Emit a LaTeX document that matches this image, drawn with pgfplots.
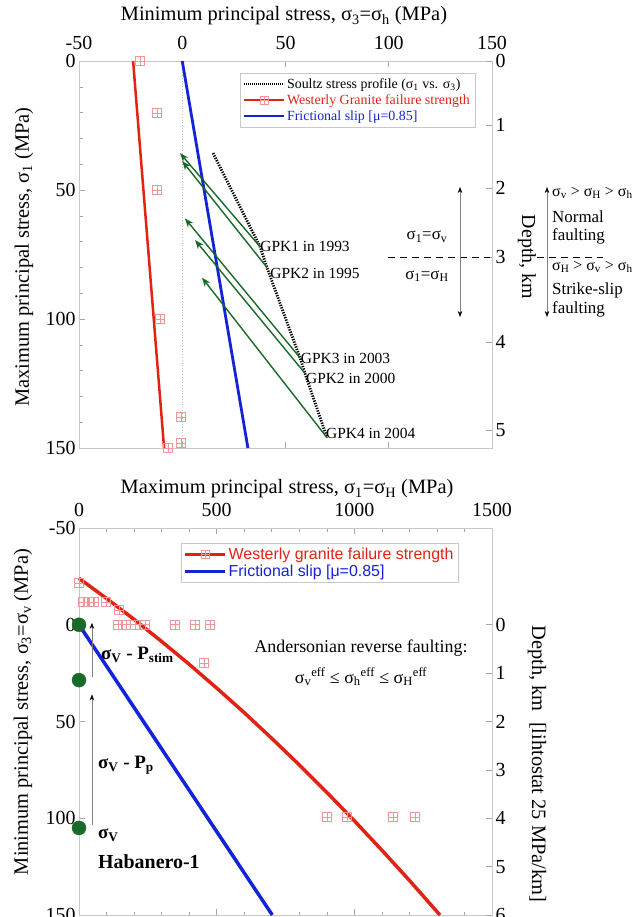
\documentclass[border=0pt]{standalone}
\usepackage{pgfplots}
\pgfplotsset{compat=1.18}
\usepackage{fontspec}
\setmainfont{Liberation Serif}
\newfontfamily\arialf{Liberation Sans}
\usetikzlibrary{arrows.meta}
\definecolor{myred}{RGB}{225,35,20}
\definecolor{myblue}{RGB}{20,35,215}
\definecolor{mygreen}{RGB}{25,105,40}
\definecolor{mypink}{RGB}{240,150,150}
\definecolor{axgray}{RGB}{200,200,200}
\newcommand{\fs}[1]{\fontsize{#1}{#1}\selectfont}
\newcommand{\sub}[1]{\textsubscript{#1}}
\pgfdeclareplotmark{sqplus}{%
 \pgfpathrectangle{\pgfpoint{-\pgfplotmarksize}{-\pgfplotmarksize}}{\pgfpoint{2\pgfplotmarksize}{2\pgfplotmarksize}}%
 \pgfpathmoveto{\pgfpoint{-\pgfplotmarksize}{0pt}}\pgfpathlineto{\pgfpoint{\pgfplotmarksize}{0pt}}%
 \pgfpathmoveto{\pgfpoint{0pt}{-\pgfplotmarksize}}\pgfpathlineto{\pgfpoint{0pt}{\pgfplotmarksize}}%
 \pgfusepathqstroke}
\pgfplotsset{
 base/.style={scale only axis, width=413bp, height=387bp, clip=false,
  axis line style={axgray, line width=0.8bp}, tick style={gray!70, line width=0.6bp},
  major tick length=6bp, minor tick length=3.5bp, tick label style={font=\fs{20}},
  xticklabel style={yshift=7.5bp},
  /pgf/number format/assume math mode=true},
}
\begin{document}
\begin{tikzpicture}
% ---------------- TOP PANEL ----------------
\begin{axis}[base, at={(79bp,-448bp)}, anchor=south west,
 xmin=-50, xmax=150, ymin=0, ymax=150, y dir=reverse,
 xtick={-50,0,50,100,150}, xticklabels={-50,0,50,100,150},
 xticklabel pos=top, xtick pos=both,
 ytick={0,50,100,150}, yticklabels={0,50,100,150}, ytick pos=left,
 minor y tick num=4,
 legend image code/.code={\draw[mark repeat=2,mark phase=2,#1] plot coordinates {(0bp,0bp)(20bp,0bp)(40bp,0bp)};},
 legend style={at={(0.959,0.969)}, anchor=north east, draw=axgray, font=\fs{14},
   cells={anchor=west}, row sep=1bp, inner sep=3bp},
]
\addlegendimage{black, line width=1.8bp, dash pattern=on 1.2bp off 0.8bp}
\addlegendentry{Soultz stress profile (σ\sub{1} vs. σ\sub{3})}
\addlegendimage{myred, line width=2.2bp, mark=sqplus, mark options={mypink, solid, line width=0.6bp}, mark size=4bp}
\addlegendentry{\textcolor{myred}{Westerly Granite failure strength}}
\addlegendimage{myblue, line width=2.2bp}
\addlegendentry{\textcolor{myblue}{Frictional slip [μ=0.85]}}
\addplot[gray!50, dotted, line width=0.8bp, forget plot] coordinates {(0,0)(0,150)};
\addplot[myred, line width=2.5bp, forget plot] coordinates {(-23.8,0)(-8.8,150)};
\addplot[only marks, mark=sqplus, mark size=4.5bp, mypink, line width=0.6bp, forget plot]
 coordinates {(-20.5,0)(-12.2,20.2)(-12.2,50)(-10.8,100)(-0.6,138)(-0.6,148)(-6.9,150)};
\addplot[myblue, line width=2.8bp, forget plot] coordinates {(0,0)(31.8,150)};
\addplot[black, line width=2.8bp, dash pattern=on 1.3bp off 1.3bp, forget plot]
 coordinates {(14.9,35.7)(37.7,72)(41,80)(57,115)(59.4,121)(70.1,146)};
\addplot[mygreen, line width=1.4bp, -{Stealth[length=9bp,width=7bp]}, forget plot] coordinates {(37.7,72)(-1.1,35.7)};
\addplot[mygreen, line width=1.4bp, -{Stealth[length=9bp,width=7bp]}, forget plot] coordinates {(41,80)(0,38.8)};
\addplot[mygreen, line width=1.4bp, -{Stealth[length=9bp,width=7bp]}, forget plot] coordinates {(57,115)(1.3,61)};
\addplot[mygreen, line width=1.4bp, -{Stealth[length=9bp,width=7bp]}, forget plot] coordinates {(59.4,121)(6.2,69.4)};
\addplot[mygreen, line width=1.4bp, -{Stealth[length=9bp,width=7bp]}, forget plot] coordinates {(70.1,146)(9.6,84)};
\node[anchor=west, font=\fs{15.5}, inner sep=1bp] at (axis cs:37.3,71.7) {GPK1 in 1993};
\node[anchor=west, font=\fs{15.5}, inner sep=1bp] at (axis cs:42.1,82.2) {GPK2 in 1995};
\node[anchor=west, font=\fs{15.5}, inner sep=1bp] at (axis cs:56.9,115.1) {GPK3 in 2003};
\node[anchor=west, font=\fs{15.5}, inner sep=1bp] at (axis cs:59.4,122.9) {GPK2 in 2000};
\node[anchor=west, font=\fs{15.5}, inner sep=1bp] at (axis cs:69.1,144.2) {GPK4 in 2004};
\end{axis}
\begin{axis}[base, at={(79bp,-448bp)}, anchor=south west,
 xmin=-50, xmax=150, ymin=0, ymax=150, y dir=reverse,
 axis x line=none, axis y line*=right, ytick pos=right,
 ytick={0,24.8,49.2,76,109,143}, yticklabels={0,1,2,3,4,5}]
\end{axis}
% top annotations
\node[font=\fs{20.5}] at (284bp,-16bp) {Minimum principal stress, σ\sub{3}=σ\sub{h} (MPa)};
\node[rotate=90, font=\fs{20.5}] at (24bp,-257bp) {Maximum principal stress, σ\sub{1} (MPa)};
\node[font=\fs{17}] at (427bp,-237bp) {σ\sub{1}=σ\sub{v}};
\node[font=\fs{17}] at (427bp,-276bp) {σ\sub{1}=σ\sub{H}};
\draw[line width=0.9bp, dash pattern=on 7bp off 5bp] (388bp,-257bp) -- (490bp,-257bp);
\draw[line width=0.9bp, dash pattern=on 7bp off 5bp] (537bp,-257bp) -- (603bp,-257bp);
\draw[gray, line width=0.5bp, {Stealth[length=6bp,width=4.5bp,color=black]}-{Stealth[length=6bp,width=4.5bp,color=black]}] (460bp,-187bp) -- (460bp,-317bp);
\draw[gray, line width=0.5bp, {Stealth[length=6bp,width=4.5bp,color=black]}-{Stealth[length=6bp,width=4.5bp,color=black]}] (547bp,-187bp) -- (547bp,-317bp);
\node[rotate=-90, font=\fs{20}] at (527bp,-257bp) {Depth, km};
\node[anchor=west, font=\fs{16}, inner sep=1bp] at (551bp,-193bp) {σ\sub{v} > σ\sub{H} > σ\sub{h}};
\node[anchor=west, font=\fs{17}, inner sep=1bp] at (551bp,-217bp) {Normal};
\node[anchor=west, font=\fs{17}, inner sep=1bp] at (551bp,-236bp) {faulting};
\node[anchor=west, font=\fs{16}, inner sep=1bp] at (551bp,-267bp) {σ\sub{H} > σ\sub{v} > σ\sub{h}};
\node[anchor=west, font=\fs{17}, inner sep=1bp] at (551bp,-290bp) {Strike-slip};
\node[anchor=west, font=\fs{17}, inner sep=1bp] at (551bp,-309bp) {faulting};
% ---------------- BOTTOM PANEL ----------------
\begin{axis}[base, at={(79bp,-915bp)}, anchor=south west,
 xmin=0, xmax=1500, ymin=-50, ymax=150, y dir=reverse,
 xtick={0,500,1000,1500}, xticklabels={0,500,1000,1500},
 xticklabel pos=top, xtick pos=both, minor x tick num=4,
 ytick={-50,0,50,100,150}, yticklabels={-50,0,50,100,150}, ytick pos=left,
 legend image code/.code={\draw[mark repeat=2,mark phase=2,#1] plot coordinates {(0bp,0bp)(20bp,0bp)(40bp,0bp)};},
 legend style={at={(0.918,0.961)}, anchor=north east, draw=axgray, font=\arialf\fs{16},
   cells={anchor=west}, row sep=0bp, inner sep=2.5bp},
]
\addlegendimage{myred, line width=3bp, mark=sqplus, mark options={mypink, solid, line width=0.6bp}, mark size=4bp}
\addlegendentry{\textcolor{myred}{Westerly granite failure strength}}
\addlegendimage{myblue, line width=3bp}
\addlegendentry{\textcolor{myblue}{Frictional slip [μ=0.85]}}
\addplot[only marks, mark=sqplus, mark size=4.5bp, mypink, line width=0.6bp, forget plot]
 coordinates {(0,-21.6)(15,-11.8)(35,-11.8)(55,-11.8)(98,-11.8)(145,-7.6)(142,0)(170,0)(203,0)(240,0)(349,0)(421,0)(476,0)(454,19.8)(901,99.4)(973,99.4)(1141,99.4)(1220,99.4)};
\addplot[myred, line width=3.5bp, forget plot] coordinates {(0,-24)(100,-13.6)(200,-2.8)(300,8.6)(400,20.4)(500,32.7)(600,45.4)(700,58.7)(800,72.4)(900,86.6)(1000,101.3)(1100,116.5)(1200,132.1)(1311,150)};
\addplot[myblue, line width=3.5bp, forget plot] coordinates {(0,0)(702,150)};
\addplot[only marks, mark=*, mark size=7bp, mygreen, forget plot] coordinates {(0,0)(0,28.6)(0,105)};
\draw[gray, line width=0.5bp, -{Stealth[length=6bp,width=4.5bp,color=black]}] (axis cs:47,103.5) -- (axis cs:47,36);
\draw[gray, line width=0.5bp, -{Stealth[length=6bp,width=4.5bp,color=black]}] (axis cs:47,27) -- (axis cs:47,-1);
\end{axis}
\begin{axis}[base, at={(79bp,-915bp)}, anchor=south west,
 xmin=0, xmax=1500, ymin=-2, ymax=6, y dir=reverse,
 axis x line=none, axis y line*=right, ytick pos=right,
 ytick={0,1,2,3,4,5,6}, yticklabels={0,1,2,3,4,5,6}]
\end{axis}
\node[font=\fs{20.5}] at (287bp,-489bp) {Maximum principal stress, σ\sub{1}=σ\sub{H} (MPa)};
\node[rotate=90, font=\fs{20.5}] at (23bp,-712bp) {Minimum principal stress, σ\sub{3}=σ\sub{v} (MPa)};
\node[rotate=-90, font=\fs{20.5}] at (537bp,-764bp) {Depth, km\ \ [lihtostat 25 MPa/km]};
\node[anchor=west, font=\fs{19}\bfseries, inner sep=1bp] at (100bp,-655bp) {σ\sub{V} - P\sub{stim}};
\node[anchor=west, font=\fs{19}\bfseries, inner sep=1bp] at (97bp,-765bp) {σ\sub{V} - P\sub{p}};
\node[anchor=west, font=\fs{19}\bfseries, inner sep=1bp] at (97bp,-835bp) {σ\sub{V}};
\node[anchor=west, font=\fs{20}\bfseries, inner sep=1bp] at (97bp,-862bp) {Habanero-1};
\node[font=\fs{18}] at (361bp,-648bp) {Andersonian reverse faulting:};
\node[font=\fs{18}] at (361bp,-677bp) {σ\sub{v}\textsuperscript{eff} ≤ σ\sub{h}\textsuperscript{eff} ≤ σ\sub{H}\textsuperscript{eff}};
\pgfresetboundingbox
\path[use as bounding box] (0bp,0bp) rectangle (636bp,-917bp);
\end{tikzpicture}
\end{document}
